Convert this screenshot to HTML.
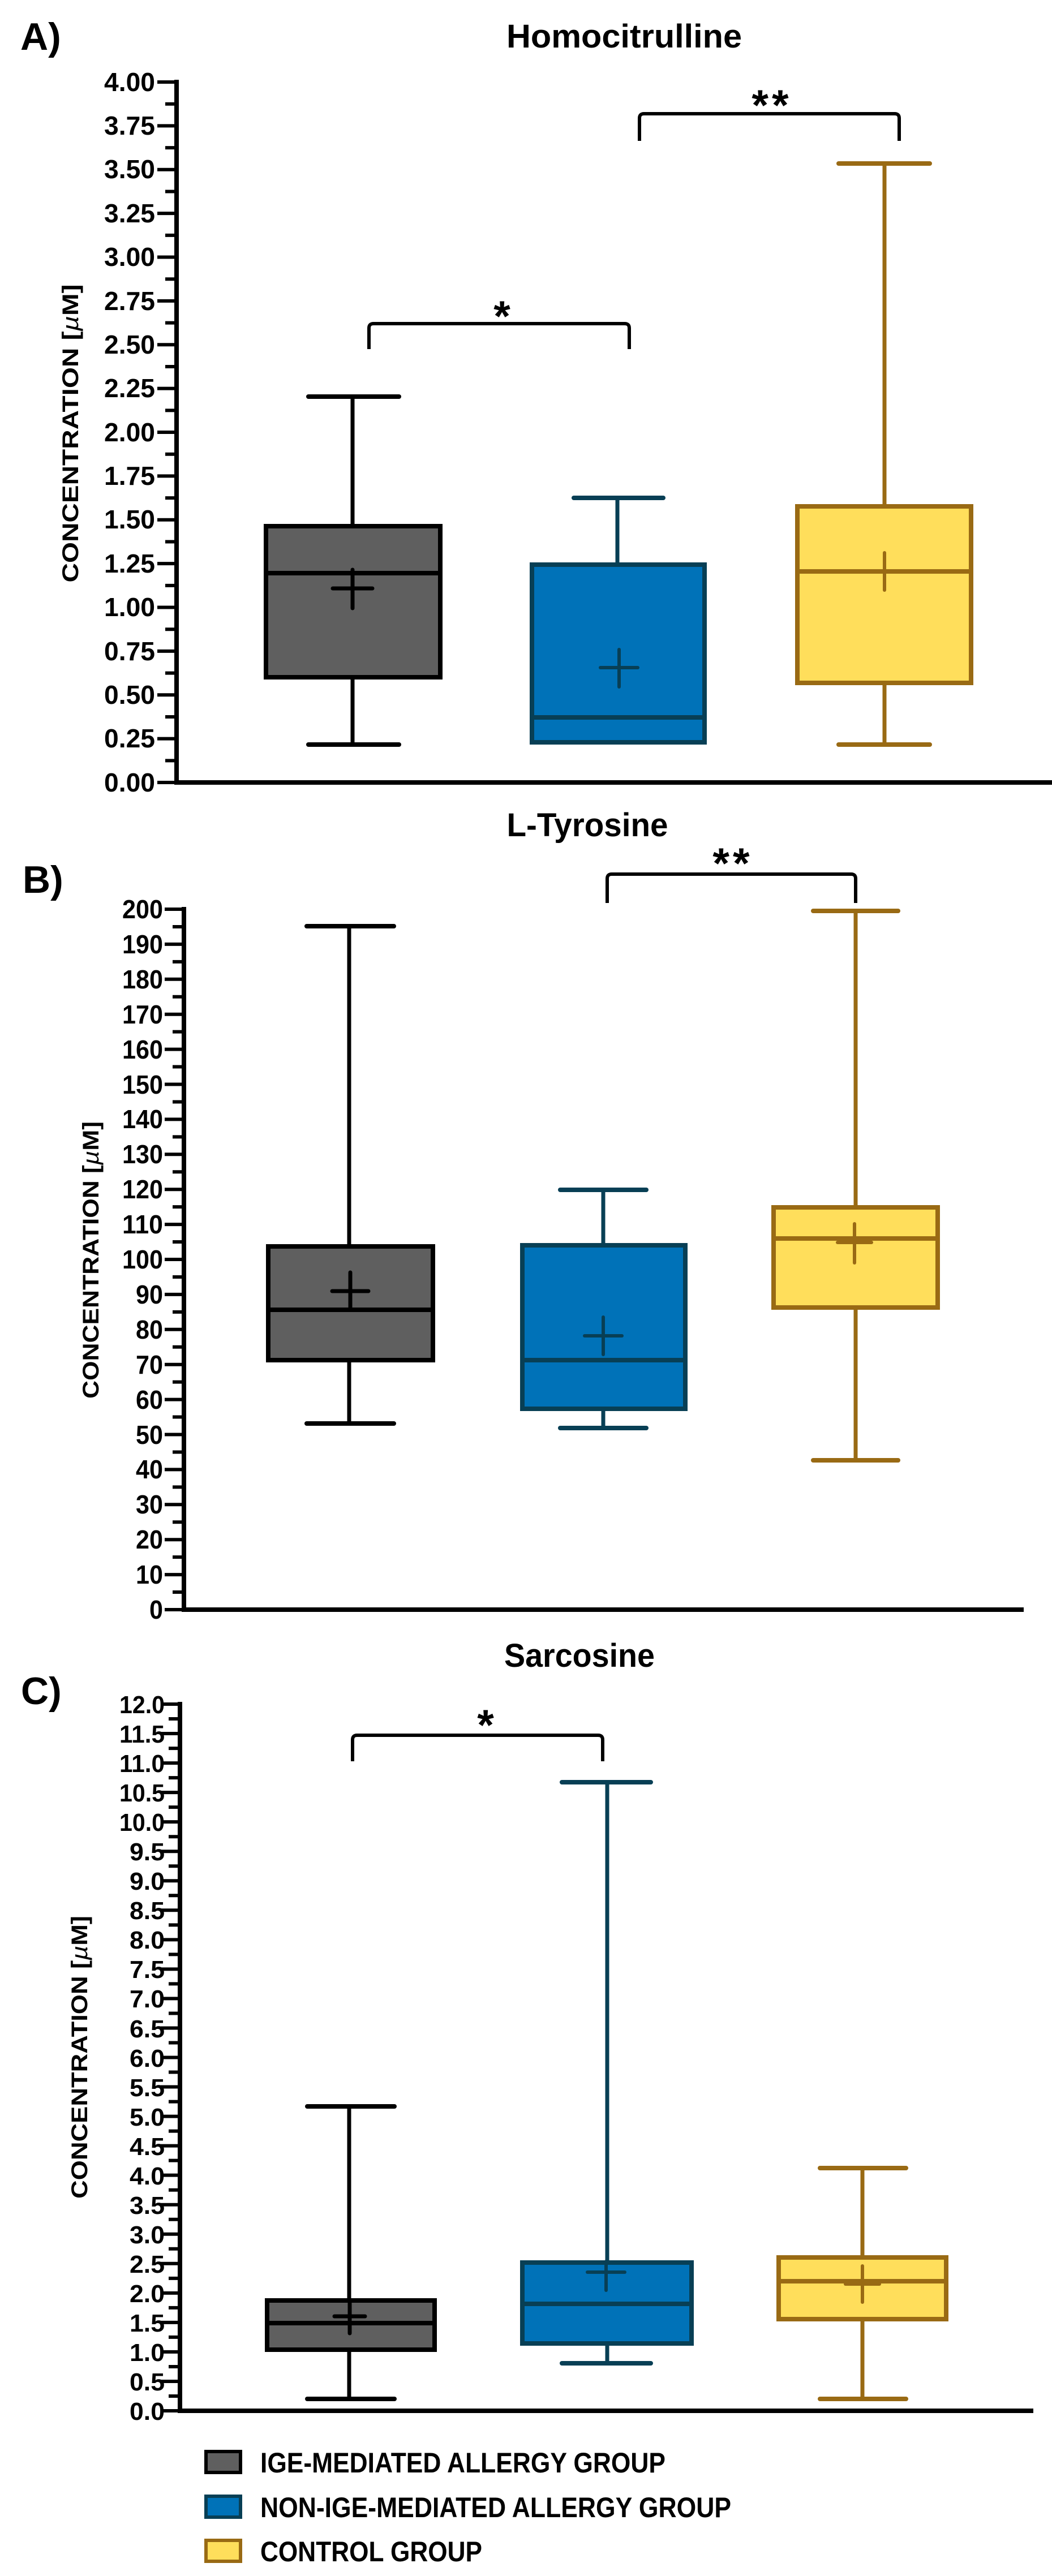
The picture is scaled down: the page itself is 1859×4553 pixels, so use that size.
<!DOCTYPE html>
<html><head><meta charset="utf-8"><style>
html,body{margin:0;padding:0;background:#fff}
svg{display:block}
text{font-family:"Liberation Sans",Arial,sans-serif;font-weight:bold;fill:#000}
</style></head><body>
<svg id="s" width="1859" height="4553" viewBox="0 0 1859 4553" xmlns="http://www.w3.org/2000/svg">
<rect width="1859" height="4553" fill="#fff"/>
<g id="g"></g>
<text x="36" y="88" font-size="68">A)</text>
<text x="1103" y="84" font-size="58" text-anchor="middle" textLength="416" lengthAdjust="spacingAndGlyphs">Homocitrulline</text>
<text x="40" y="1578" font-size="68">B)</text>
<text x="1038" y="1478" font-size="58" text-anchor="middle" textLength="285" lengthAdjust="spacingAndGlyphs">L-Tyrosine</text>
<text x="37" y="3012" font-size="68">C)</text>
<text x="1024" y="2946" font-size="58" text-anchor="middle" textLength="266" lengthAdjust="spacingAndGlyphs">Sarcosine</text>
<text transform="translate(138,766) rotate(-90)" font-size="40" text-anchor="middle" textLength="527" lengthAdjust="spacingAndGlyphs">CONCENTRATION [<tspan font-style="italic" font-weight="normal">µ</tspan>M]</text>
<text transform="translate(174,2227) rotate(-90)" font-size="40" text-anchor="middle" textLength="490" lengthAdjust="spacingAndGlyphs">CONCENTRATION [<tspan font-style="italic" font-weight="normal">µ</tspan>M]</text>
<text transform="translate(154,3636) rotate(-90)" font-size="40" text-anchor="middle" textLength="500" lengthAdjust="spacingAndGlyphs">CONCENTRATION [<tspan font-style="italic" font-weight="normal">µ</tspan>M]</text>
<g font-size="46" text-anchor="end">
<text x="274" y="1399" textLength="90" lengthAdjust="spacingAndGlyphs">0.00</text>
<text x="274" y="1321" textLength="90" lengthAdjust="spacingAndGlyphs">0.25</text>
<text x="274" y="1244" textLength="90" lengthAdjust="spacingAndGlyphs">0.50</text>
<text x="274" y="1167" textLength="90" lengthAdjust="spacingAndGlyphs">0.75</text>
<text x="274" y="1089" textLength="90" lengthAdjust="spacingAndGlyphs">1.00</text>
<text x="274" y="1012" textLength="90" lengthAdjust="spacingAndGlyphs">1.25</text>
<text x="274" y="934" textLength="90" lengthAdjust="spacingAndGlyphs">1.50</text>
<text x="274" y="857" textLength="90" lengthAdjust="spacingAndGlyphs">1.75</text>
<text x="274" y="780" textLength="90" lengthAdjust="spacingAndGlyphs">2.00</text>
<text x="274" y="702" textLength="90" lengthAdjust="spacingAndGlyphs">2.25</text>
<text x="274" y="625" textLength="90" lengthAdjust="spacingAndGlyphs">2.50</text>
<text x="274" y="548" textLength="90" lengthAdjust="spacingAndGlyphs">2.75</text>
<text x="274" y="470" textLength="90" lengthAdjust="spacingAndGlyphs">3.00</text>
<text x="274" y="393" textLength="90" lengthAdjust="spacingAndGlyphs">3.25</text>
<text x="274" y="315" textLength="90" lengthAdjust="spacingAndGlyphs">3.50</text>
<text x="274" y="238" textLength="90" lengthAdjust="spacingAndGlyphs">3.75</text>
<text x="274" y="161" textLength="90" lengthAdjust="spacingAndGlyphs">4.00</text>
</g>
<g font-size="46" text-anchor="end">
<text x="288" y="2861" textLength="24" lengthAdjust="spacingAndGlyphs">0</text>
<text x="288" y="2799" textLength="48" lengthAdjust="spacingAndGlyphs">10</text>
<text x="288" y="2737" textLength="48" lengthAdjust="spacingAndGlyphs">20</text>
<text x="288" y="2675" textLength="48" lengthAdjust="spacingAndGlyphs">30</text>
<text x="288" y="2613" textLength="48" lengthAdjust="spacingAndGlyphs">40</text>
<text x="288" y="2552" textLength="48" lengthAdjust="spacingAndGlyphs">50</text>
<text x="288" y="2490" textLength="48" lengthAdjust="spacingAndGlyphs">60</text>
<text x="288" y="2428" textLength="48" lengthAdjust="spacingAndGlyphs">70</text>
<text x="288" y="2366" textLength="48" lengthAdjust="spacingAndGlyphs">80</text>
<text x="288" y="2304" textLength="48" lengthAdjust="spacingAndGlyphs">90</text>
<text x="288" y="2242" textLength="72" lengthAdjust="spacingAndGlyphs">100</text>
<text x="288" y="2180" textLength="72" lengthAdjust="spacingAndGlyphs">110</text>
<text x="288" y="2118" textLength="72" lengthAdjust="spacingAndGlyphs">120</text>
<text x="288" y="2056" textLength="72" lengthAdjust="spacingAndGlyphs">130</text>
<text x="288" y="1994" textLength="72" lengthAdjust="spacingAndGlyphs">140</text>
<text x="288" y="1933" textLength="72" lengthAdjust="spacingAndGlyphs">150</text>
<text x="288" y="1871" textLength="72" lengthAdjust="spacingAndGlyphs">160</text>
<text x="288" y="1809" textLength="72" lengthAdjust="spacingAndGlyphs">170</text>
<text x="288" y="1747" textLength="72" lengthAdjust="spacingAndGlyphs">180</text>
<text x="288" y="1685" textLength="72" lengthAdjust="spacingAndGlyphs">190</text>
<text x="288" y="1623" textLength="72" lengthAdjust="spacingAndGlyphs">200</text>
</g>
<g font-size="44" text-anchor="end">
<text x="291" y="4277" textLength="62" lengthAdjust="spacingAndGlyphs">0.0</text>
<text x="291" y="4225" textLength="62" lengthAdjust="spacingAndGlyphs">0.5</text>
<text x="291" y="4173" textLength="62" lengthAdjust="spacingAndGlyphs">1.0</text>
<text x="291" y="4121" textLength="62" lengthAdjust="spacingAndGlyphs">1.5</text>
<text x="291" y="4069" textLength="62" lengthAdjust="spacingAndGlyphs">2.0</text>
<text x="291" y="4017" textLength="62" lengthAdjust="spacingAndGlyphs">2.5</text>
<text x="291" y="3965" textLength="62" lengthAdjust="spacingAndGlyphs">3.0</text>
<text x="291" y="3913" textLength="62" lengthAdjust="spacingAndGlyphs">3.5</text>
<text x="291" y="3861" textLength="62" lengthAdjust="spacingAndGlyphs">4.0</text>
<text x="291" y="3809" textLength="62" lengthAdjust="spacingAndGlyphs">4.5</text>
<text x="291" y="3757" textLength="62" lengthAdjust="spacingAndGlyphs">5.0</text>
<text x="291" y="3705" textLength="62" lengthAdjust="spacingAndGlyphs">5.5</text>
<text x="291" y="3653" textLength="62" lengthAdjust="spacingAndGlyphs">6.0</text>
<text x="291" y="3601" textLength="62" lengthAdjust="spacingAndGlyphs">6.5</text>
<text x="291" y="3548" textLength="62" lengthAdjust="spacingAndGlyphs">7.0</text>
<text x="291" y="3496" textLength="62" lengthAdjust="spacingAndGlyphs">7.5</text>
<text x="291" y="3444" textLength="62" lengthAdjust="spacingAndGlyphs">8.0</text>
<text x="291" y="3392" textLength="62" lengthAdjust="spacingAndGlyphs">8.5</text>
<text x="291" y="3340" textLength="62" lengthAdjust="spacingAndGlyphs">9.0</text>
<text x="291" y="3288" textLength="62" lengthAdjust="spacingAndGlyphs">9.5</text>
<text x="291" y="3236" textLength="80" lengthAdjust="spacingAndGlyphs">10.0</text>
<text x="291" y="3184" textLength="80" lengthAdjust="spacingAndGlyphs">10.5</text>
<text x="291" y="3132" textLength="80" lengthAdjust="spacingAndGlyphs">11.0</text>
<text x="291" y="3080" textLength="80" lengthAdjust="spacingAndGlyphs">11.5</text>
<text x="291" y="3028" textLength="80" lengthAdjust="spacingAndGlyphs">12.0</text>
</g>
<text x="887" y="585" font-size="76" text-anchor="middle">*</text>
<text x="1364" y="212" font-size="76" text-anchor="middle" letter-spacing="6">**</text>
<text x="1295" y="1552" font-size="76" text-anchor="middle" letter-spacing="6">**</text>
<text x="858" y="3075" font-size="76" text-anchor="middle">*</text>
<rect x="364" y="4333" width="61" height="37" fill="#5f5f5f" stroke="#000" stroke-width="6"/>
<rect x="364" y="4412" width="61" height="37" fill="#0072B8" stroke="#083F55" stroke-width="6"/>
<rect x="364" y="4490" width="61" height="37" fill="#FFDE5B" stroke="#996A14" stroke-width="6"/>
<text x="460" y="4370" font-size="50" textLength="716" lengthAdjust="spacingAndGlyphs">IGE-MEDIATED ALLERGY GROUP</text>
<text x="460" y="4449" font-size="50" textLength="832" lengthAdjust="spacingAndGlyphs">NON-IGE-MEDIATED ALLERGY GROUP</text>
<text x="460" y="4527" font-size="50" textLength="392" lengthAdjust="spacingAndGlyphs">CONTROL GROUP</text>
</svg>
<script>
(function(){
var g=document.getElementById('g'),NS='http://www.w3.org/2000/svg';
function L(x1,y1,x2,y2,c,w,cap){var e=document.createElementNS(NS,'line');e.setAttribute('x1',x1);e.setAttribute('y1',y1);e.setAttribute('x2',x2);e.setAttribute('y2',y2);e.setAttribute('stroke',c);e.setAttribute('stroke-width',w);e.setAttribute('stroke-linecap',cap||'butt');g.appendChild(e);}
function R(x,y,w,h,f,s){var e=document.createElementNS(NS,'rect');e.setAttribute('x',x);e.setAttribute('y',y);e.setAttribute('width',w);e.setAttribute('height',h);e.setAttribute('fill',f);e.setAttribute('stroke',s);e.setAttribute('stroke-width',8);g.appendChild(e);}
function axis(ax,y0,yt,n,xe){
  L(ax,yt-4,ax,y0+4,'#000',8);L(ax-4,y0,xe,y0,'#000',8);
  var st=(y0-yt)/n;
  for(var i=0;i<=n;i++){var y=y0-i*st;L(ax-34,y,ax,y,'#000',6);if(i<n)L(ax-20,y-st/2,ax,y-st/2,'#000',6);}
}
function box(b){
  var c=b.s;
  L(b.cx,b.top,b.cx,b.q3,c,7);L(b.cx,b.q1,b.cx,b.min,c,7);
  L(b.c1,b.top,b.c2,b.top,c,8,'round');L(b.c1,b.min,b.c2,b.min,c,8,'round');
  R(b.x1,b.q3,b.x2-b.x1,b.q1-b.q3,b.f,c);
  L(b.x1,b.med,b.x2,b.med,c,8);
  L(b.mx-b.mh,b.my,b.mx+b.mh,b.my,c,b.mw||7,'round');
  L(b.mx,b.my-b.mv1,b.mx,b.my+b.mv2,c,b.mw||7,'round');
}
function br(x1,x2,yt,yb){var p=document.createElementNS(NS,'path');p.setAttribute('d','M'+x1+' '+yb+' L'+x1+' '+(yt+8)+' Q'+x1+' '+yt+' '+(x1+8)+' '+yt+' L'+(x2-8)+' '+yt+' Q'+x2+' '+yt+' '+x2+' '+(yt+8)+' L'+x2+' '+yb);p.setAttribute('fill','none');p.setAttribute('stroke','#000');p.setAttribute('stroke-width',6);g.appendChild(p);}
var K='#000',GF='#5f5f5f',BS='#083F55',BF='#0072B8',YS='#996A14',YF='#FFDE5B';
axis(312,1383,145,16,1859);
box({s:K,f:GF,x1:470,x2:778,cx:623,c1:545,c2:705,top:701,q3:930,med:1013,q1:1197,min:1316,mx:623,my:1040,mh:35,mv1:33,mv2:35});
box({s:BS,f:BF,x1:940,x2:1245,cx:1091,c1:1014,c2:1172,top:880,q3:998,med:1268,q1:1312,min:1312,mx:1094,my:1180,mh:33,mv1:32,mv2:34,mw:6});
box({s:YS,f:YF,x1:1409,x2:1716,cx:1563,c1:1482,c2:1643,top:289,q3:895,med:1010,q1:1207,min:1316,mx:1563,my:1010,mh:16,mv1:33,mv2:33,mw:6});
br(652,1112,572,617);br(1130,1589,201,249);
axis(325,2845,1607,20,1809);
box({s:K,f:GF,x1:474,x2:765,cx:617,c1:542,c2:696,top:1637,q3:2203,med:2315,q1:2404,min:2516,mx:619,my:2282,mh:32,mv1:33,mv2:31});
box({s:BS,f:BF,x1:923,x2:1211,cx:1066,c1:990,c2:1142,top:2103,q3:2201,med:2404,q1:2490,min:2524,mx:1066,my:2361,mh:33,mv1:33,mv2:33,mw:6});
box({s:YS,f:YF,x1:1367,x2:1657,cx:1512,c1:1437,c2:1587,top:1610,q3:2134,med:2189,q1:2311,min:2581,mx:1510,my:2196,mh:30,mv1:33,mv2:36,mw:6});
br(1073,1512,1545,1596);
axis(318,4261,3012,24,1826);
box({s:K,f:GF,x1:472,x2:768,cx:617,c1:543,c2:697,top:3723,q3:4066,med:4106,q1:4153,min:4240,mx:618,my:4094,mh:27,mv1:25,mv2:30});
box({s:BS,f:BF,x1:923,x2:1222,cx:1073,c1:993,c2:1150,top:3150,q3:3999,med:4072,q1:4142,min:4177,mx:1071,my:4016,mh:33,mv1:19,mv2:32,mw:6});
box({s:YS,f:YF,x1:1376,x2:1672,cx:1524,c1:1449,c2:1601,top:3832,q3:3990,med:4032,q1:4099,min:4240,mx:1524,my:4037,mh:30,mv1:32,mv2:32,mw:6});
br(623,1065,3067,3113);
})();
</script>
</body></html>
